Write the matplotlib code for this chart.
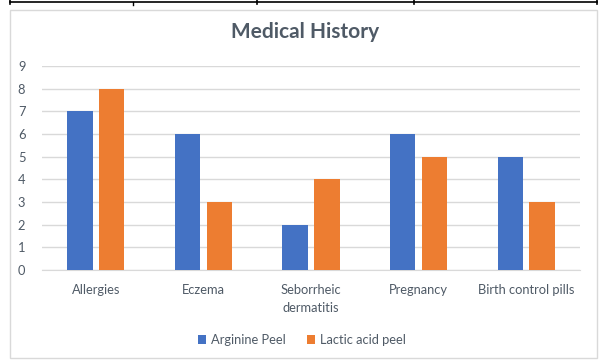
import matplotlib
matplotlib.use("Agg")
import matplotlib.pyplot as plt
import numpy as np
from matplotlib.patches import Rectangle
from matplotlib.lines import Line2D

categories = ["Allergies", "Eczema", "Seborrheic\ndermatitis", "Pregnancy", "Birth control pills"]
arginine = [7, 6, 2, 6, 5]
lactic = [8, 3, 4, 5, 3]
series_names = ["Arginine Peel", "Lactic acid peel"]
yticks = list(range(0, 10))

plt.rcParams['font.family'] = ['Lato', 'DejaVu Sans']

W, H = 604, 361
fig = plt.figure(figsize=(W / 100, H / 100), dpi=100)
fig.patch.set_facecolor("white")
text_color = "#4f5a66"

def px(x, y):
    return x / W, 1 - y / H

# chart frame
fx0, fy0 = px(10, 358)
fx1, fy1 = px(597, 10)
fig.patches.append(Rectangle((fx0, fy0), fx1 - fx0, fy1 - fy0, transform=fig.transFigure,
                             facecolor="white", edgecolor="#d9d9d9", linewidth=1.0, zorder=-5))

# table rule above the chart
ty = 1 - 2 / H
fig.lines.append(Line2D([10 / W, 597 / W], [ty, ty], transform=fig.transFigure, color="black", lw=1.2))
for xv in [10, 257, 414, 597]:
    fig.lines.append(Line2D([xv / W, xv / W], [1, 1 - 4 / H], transform=fig.transFigure, color="black", lw=1.2))
fig.lines.append(Line2D([133 / W, 133 / W], [ty, 1 - 5 / H], transform=fig.transFigure, color="black", lw=1.0))

left, right = 42 / W, 580 / W
bottom, top = 1 - 270 / H, 1 - 66 / H
ax = fig.add_axes([left, bottom, right - left, top - bottom], zorder=2)
ax.set_facecolor("none")

x = np.arange(len(categories))
bw = 0.235
gap = 0.03
blue = "#4472C4"
orange = "#ED7D31"
ax.bar(x - bw / 2 - gap, arginine, bw, color=blue, label=series_names[0], zorder=3)
ax.bar(x + bw / 2 + gap, lactic, bw, color=orange, label=series_names[1], zorder=3)

ax.set_xlim(-0.5, len(categories) - 0.5)
ax.set_ylim(0, 9)
ax.set_yticks(yticks)
ax.grid(axis="y", color="#d9d9d9", linewidth=1.0, zorder=0)
for s in ["top", "right", "left"]:
    ax.spines[s].set_visible(False)
ax.spines["bottom"].set_color("#d9d9d9")
ax.tick_params(axis="both", length=0, colors=text_color, labelsize=9.3)
ax.tick_params(axis="y", pad=12)
ax.tick_params(axis="x", pad=10)
ax.set_xticks(x)
ax.set_xticklabels(categories, linespacing=1.65)

fig.text(305 / W, 1 - 32 / H, "Medical History", ha="center", va="center",
         fontsize=15, fontweight="bold", color=text_color)

leg = fig.legend(loc="center", bbox_to_anchor=(302 / W, 1 - 340 / H), ncol=2, frameon=False,
                 fontsize=9.3, handlelength=0.6, handleheight=0.6, handletextpad=0.4,
                 columnspacing=1.6)
for t in leg.get_texts():
    t.set_color(text_color)

fig.savefig("out.png", dpi=100)
